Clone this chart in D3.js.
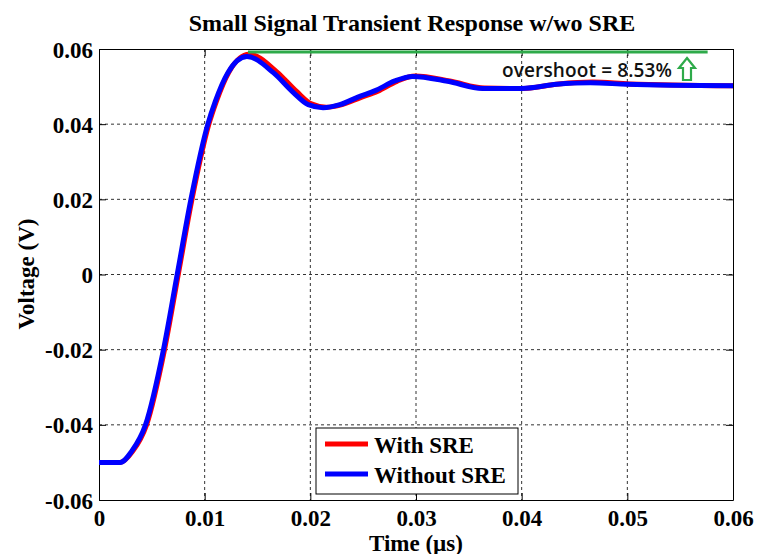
<!DOCTYPE html>
<html>
<head>
<meta charset="utf-8" />
<script src="https://d3js.org/d3.v7.min.js"></script>
<style>
  body { margin: 0; background: #fff; }
  text { font-family: "Liberation Serif", "Times New Roman", serif; font-weight: bold; }
</style>
</head>
<body>
<script>
  // data
  var withTime = [0, 0.002, 0.0032, 0.0045, 0.0062, 0.0075, 0.0088, 0.0104, 0.0111, 0.0123, 0.0142, 0.0168, 0.0187, 0.0201, 0.0215, 0.023, 0.0247, 0.0264, 0.0282, 0.0299, 0.0332, 0.0365, 0.0402, 0.0435, 0.0467, 0.0502, 0.06];
  var withVolt = [-0.05, -0.05, -0.047, -0.04, -0.02, 0, 0.02, 0.04, 0.046, 0.0539, 0.0586, 0.054, 0.0487, 0.0454, 0.0445, 0.0452, 0.047, 0.0488, 0.0514, 0.0528, 0.0515, 0.0496, 0.0495, 0.0507, 0.0512, 0.0507, 0.0502];

  var withoutTime = [0, 0.002, 0.0031, 0.0044, 0.0061, 0.0074, 0.0087, 0.0103, 0.011, 0.0122, 0.014, 0.0165, 0.0184, 0.0198, 0.0212, 0.0228, 0.0245, 0.0262, 0.028, 0.0297, 0.033, 0.0363, 0.040, 0.0433, 0.0465, 0.050, 0.06];
  var withoutVolt = [-0.05, -0.05, -0.047, -0.04, -0.02, 0, 0.02, 0.04, 0.046, 0.0537, 0.058, 0.0537, 0.0484, 0.0452, 0.0444, 0.0452, 0.0472, 0.049, 0.0515, 0.0527, 0.0514, 0.0495, 0.0495, 0.0506, 0.051, 0.0506, 0.0502];

  var overshootTime = [0.0141, 0.0576];
  var overshootVolt = 0.0592;
  var overshootLabel = "overshoot = 8.53%";

  var xTicks = [0, 0.01, 0.02, 0.03, 0.04, 0.05, 0.06];
  var yTicks = [-0.06, -0.04, -0.02, 0, 0.02, 0.04, 0.06];
  var seriesNames = ["With SRE", "Without SRE"];
  var seriesColors = ["#ff0000", "#0000ff"];

  var W = 757, H = 554;
  var pL = 99, pR = 733, pT = 49, pB = 500;

  var x = d3.scaleLinear().domain([0, 0.06]).range([pL, pR]);
  var y = d3.scaleLinear().domain([-0.06, 0.06]).range([pB, pT]);

  var svg = d3.select("body").append("svg")
              .attr("width", W)
              .attr("height", H);

  // grid
  svg.append("g").selectAll("line")
     .data(xTicks.slice(1, -1))
     .enter().append("line")
     .attr("x1", d => x(d)).attr("x2", d => x(d))
     .attr("y1", pT).attr("y2", pB)
     .attr("stroke", "#333").attr("stroke-dasharray", "3,3");
  svg.append("g").selectAll("line")
     .data(yTicks.slice(1, -1))
     .enter().append("line")
     .attr("x1", pL).attr("x2", pR)
     .attr("y1", d => y(d)).attr("y2", d => y(d))
     .attr("stroke", "#333").attr("stroke-dasharray", "3,3");

  // axes, ticks inward like matlab; plain hyphen for negatives
  var fmt = d => String(d);
  var axB = svg.append("g").attr("transform", "translate(0," + pB + ")")
               .call(d3.axisBottom(x).tickValues(xTicks).tickFormat(fmt).tickSizeInner(-7).tickSizeOuter(0).tickPadding(10));
  var axL = svg.append("g").attr("transform", "translate(" + pL + ",0)")
               .call(d3.axisLeft(y).tickValues(yTicks).tickFormat(fmt).tickSizeInner(-7).tickSizeOuter(0).tickPadding(6));
  svg.append("g").attr("transform", "translate(0," + pT + ")")
     .call(d3.axisTop(x).tickValues(xTicks).tickFormat("").tickSizeInner(-7).tickSizeOuter(0));
  svg.append("g").attr("transform", "translate(" + pR + ",0)")
     .call(d3.axisRight(y).tickValues(yTicks).tickFormat("").tickSizeInner(-7).tickSizeOuter(0));

  svg.selectAll(".domain").attr("stroke", "#000");
  svg.selectAll(".tick line").attr("stroke", "#000");
  axB.selectAll("text").attr("font-size", 23).attr("font-family", "Liberation Serif").attr("font-weight", "bold").attr("fill", "#000");
  axL.selectAll("text").attr("font-size", 23).attr("font-family", "Liberation Serif").attr("font-weight", "bold").attr("fill", "#000").attr("dy", "0.35em");

  // curves
  var line = d3.line().x(d => x(d[0])).y(d => y(d[1])).curve(d3.curveMonotoneX);
  var series = [d3.zip(withTime, withVolt), d3.zip(withoutTime, withoutVolt)];
  svg.append("g").selectAll("path")
     .data(series)
     .enter().append("path")
     .attr("d", line)
     .attr("fill", "none")
     .attr("stroke", (d, i) => seriesColors[i])
     .attr("stroke-width", 5)
     .attr("stroke-linejoin", "round");

  // overshoot marker
  svg.append("line")
     .attr("x1", x(overshootTime[0])).attr("x2", x(overshootTime[1]))
     .attr("y1", y(overshootVolt)).attr("y2", y(overshootVolt))
     .attr("stroke", "#2eaa4a").attr("stroke-width", 3);

  svg.append("text")
     .attr("x", 502).attr("y", 77)
     .style("font-family", "'Open Sans', 'Noto Sans', sans-serif")
     .style("font-weight", 600)
     .attr("font-size", 19)
     .attr("textLength", 170)
     .attr("fill", "#111")
     .text(overshootLabel);

  var ax0 = 687, ay0 = 58;
  svg.append("path")
     .attr("d", "M" + ax0 + "," + ay0 + " l8,10 h-4 v12 h-8 v-12 h-4 z")
     .attr("fill", "#fff").attr("stroke", "#2eaa4a").attr("stroke-width", 2.2);

  // title and labels
  svg.append("text")
     .attr("x", 412).attr("y", 31)
     .attr("text-anchor", "middle")
     .attr("font-size", 24)
     .text("Small Signal Transient Response w/wo SRE");

  svg.append("text")
     .attr("x", 416).attr("y", 551)
     .attr("text-anchor", "middle")
     .attr("font-size", 23)
     .text("Time (\u00b5s)");

  svg.append("text")
     .attr("transform", "translate(34,274) rotate(-90)")
     .attr("text-anchor", "middle")
     .attr("font-size", 23)
     .text("Voltage (V)");

  // legend
  var lg = svg.append("g");
  lg.append("rect")
    .attr("x", 316).attr("y", 428).attr("width", 202).attr("height", 66)
    .attr("fill", "#fff").attr("stroke", "#000");
  seriesNames.forEach(function(name, i) {
    var ly = 444 + i * 30;
    lg.append("line")
      .attr("x1", 325).attr("x2", 368).attr("y1", ly).attr("y2", ly)
      .attr("stroke", seriesColors[i]).attr("stroke-width", 5);
    lg.append("text")
      .attr("x", 374).attr("y", ly + 9)
      .attr("font-size", 23)
      .text(name);
  });
</script>
</body>
</html>
